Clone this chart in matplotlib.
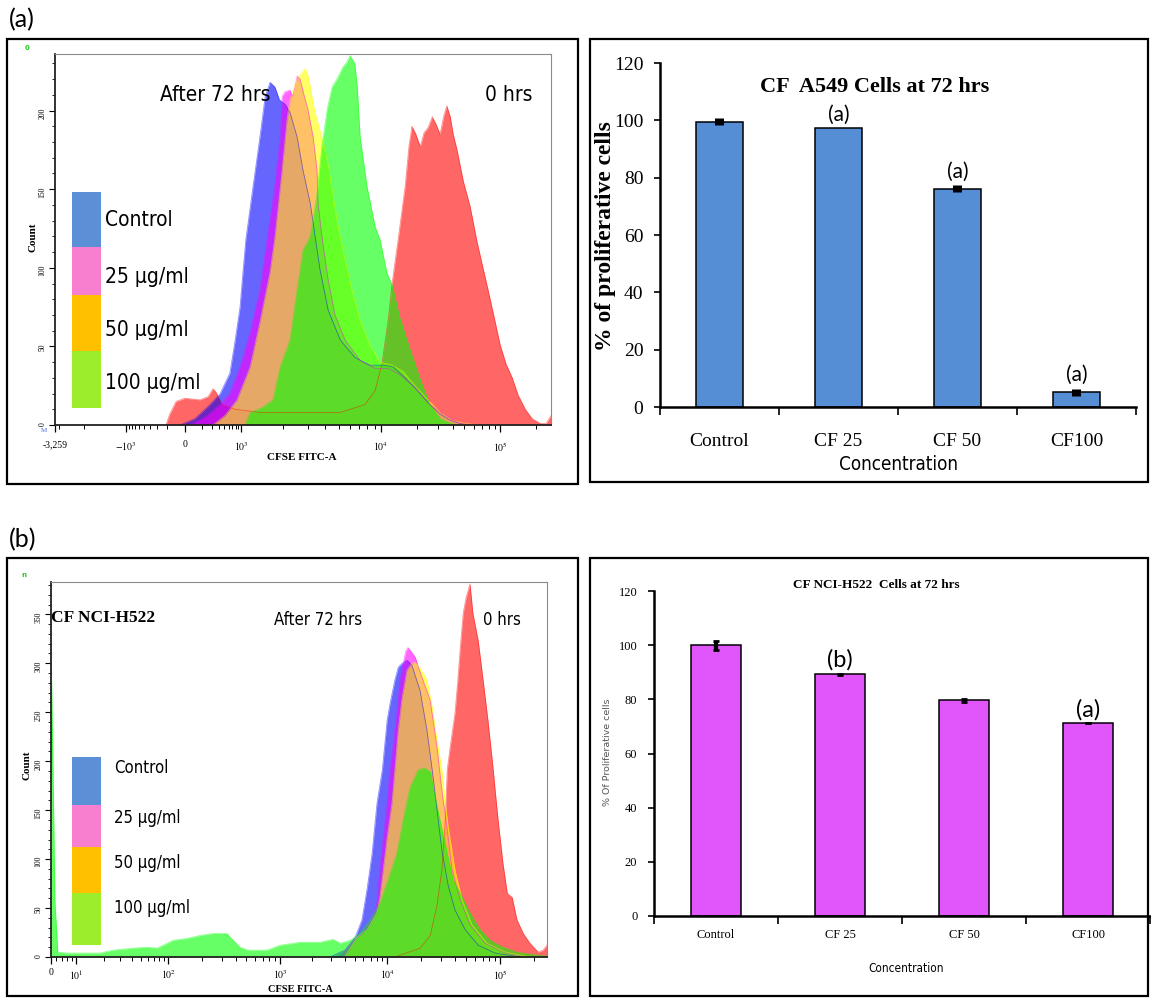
import numpy as np
import matplotlib
matplotlib.use('Agg')
import matplotlib.pyplot as plt
from matplotlib.patches import Rectangle

plt.rcParams['mathtext.fontset'] = 'stix'

W, H = 1151, 998
SERIF = ['Liberation Serif', 'DejaVu Serif']
NARROW = dict(family=['DejaVu Sans'], stretch='condensed')
CALIBRI = ['Lato', 'DejaVu Sans']

# ---- CFSE histograms, x = display channel (0..1024), y = cell count ----
# (a) CF A549
a_red_x = [229, 237, 250, 268, 299, 316, 326, 332, 345, 372, 423, 506, 589, 640, 661, 675, 688, 696, 708, 723,
           731, 737, 745, 754, 762, 770, 779, 787, 795, 803, 809, 816, 822, 830, 843, 857, 871, 882, 894, 907,
           919, 931, 944, 956, 971, 985, 1002, 1014, 1024]
a_red_y = [0, 7, 15, 17, 16, 18, 23, 21, 13, 10, 8, 8, 8, 13, 22, 39, 67, 90, 117, 152,
           178, 190, 185, 177, 186, 189, 196, 191, 185, 197, 203, 196, 185, 175, 155, 139, 117, 102, 86, 68,
           51, 39, 30, 19, 10, 4, 1, 1, 6]
a_ctrl_x = [258, 289, 320, 341, 361, 372, 382, 388, 394, 409, 423, 434, 444, 454, 463, 475, 485, 500, 512, 527,
            537, 547, 564, 589, 619, 650, 681, 698, 723, 748, 774, 795, 816, 836, 857]
a_ctrl_y = [0, 4, 13, 20, 33, 54, 75, 97, 118, 152, 183, 209, 218, 215, 207, 204, 199, 183, 162, 141,
            120, 99, 73, 54, 43, 38, 38, 37, 30, 22, 13, 7, 3, 1, 0]
a_25_x = [279, 310, 341, 361, 382, 403, 423, 438, 454, 465, 469, 475, 485, 491, 500, 506, 514, 522, 533, 541,
          543, 551, 564, 578, 599, 630, 661, 688, 712, 743, 774, 805, 836, 867]
a_25_y = [0, 5, 13, 20, 37, 59, 86, 118, 152, 183, 209, 212, 213, 209, 222, 220, 210, 201, 183, 162,
          141, 120, 92, 70, 54, 41, 36, 36, 32, 24, 13, 6, 1, 0]
a_50_x = [326, 351, 376, 403, 423, 444, 454, 469, 479, 485, 491, 500, 506, 516, 522, 527, 533, 541, 551, 562,
          572, 584, 599, 613, 630, 650, 671, 696, 719, 743, 770, 795, 820, 847, 878]
a_50_y = [0, 6, 16, 37, 65, 97, 119, 162, 194, 206, 213, 220, 223, 227, 223, 215, 204, 194, 183, 169,
          150, 127, 105, 86, 67, 51, 40, 38, 34, 25, 16, 8, 3, 1, 0]
a_100_x = [392, 403, 427, 450, 465, 485, 500, 512, 527, 541, 551, 562, 572, 582, 595, 603, 609, 615, 619, 624,
           630, 644, 661, 671, 685, 696, 712, 733, 754, 774, 795, 816, 836]
a_100_y = [0, 8, 11, 16, 37, 54, 86, 111, 120, 147, 177, 201, 215, 220, 228, 231, 235, 232, 230, 215,
           183, 152, 126, 118, 97, 89, 68, 48, 29, 13, 4, 1, 0]

# (b) CF NCI-H522
b_red_x = [710, 762, 783, 797, 807, 814, 818, 824, 834, 840, 845, 851, 857, 865, 871, 882, 892, 902, 913, 917,
           923, 933, 942, 952, 962, 975, 989, 1006, 1016, 1024]
b_red_y = [0, 9, 22, 53, 89, 140, 191, 214, 249, 283, 316, 351, 367, 381, 351, 323, 283, 242, 191, 170,
           140, 96, 65, 61, 38, 24, 14, 5, 7, 12]
b_ctrl_x = [576, 607, 628, 642, 653, 663, 673, 684, 694, 700, 710, 717, 725, 735, 745, 762, 776, 787, 797, 807,
            820, 834, 855, 882, 917, 968]
b_ctrl_y = [0, 7, 20, 38, 71, 106, 157, 191, 242, 259, 283, 296, 300, 303, 298, 272, 232, 191, 150, 109,
            73, 48, 28, 12, 4, 0]
b_25_x = [597, 632, 644, 663, 673, 679, 686, 694, 700, 706, 714, 721, 727, 733, 737, 745, 752, 762, 783, 797,
          807, 818, 828, 845, 865, 896, 938, 979]
b_25_y = [0, 20, 24, 38, 55, 89, 122, 157, 191, 214, 249, 283, 300, 313, 316, 311, 306, 291, 262, 214,
          170, 130, 89, 58, 33, 14, 4, 0]
b_50_x = [607, 632, 653, 673, 679, 686, 694, 704, 710, 717, 725, 735, 745, 752, 762, 776, 787, 797, 807, 814,
          820, 834, 849, 869, 900, 938, 989]
b_50_y = [0, 20, 28, 45, 61, 89, 122, 157, 191, 232, 265, 293, 300, 301, 295, 283, 255, 221, 191, 157,
          133, 89, 58, 33, 14, 5, 0]
b_100_x = [0, 4, 8, 14, 33, 101, 128, 169, 198, 219, 252, 281, 308, 335, 363, 376, 390, 405, 446, 473,
           514, 555, 582, 597, 617, 632, 644, 659, 679, 696, 714, 727, 741, 758, 770, 783, 789, 803, 818, 830,
           849, 865, 886, 907, 933, 962, 989, 1024]
b_100_y = [320, 201, 58, 5, 4, 4, 7, 9, 10, 9, 17, 19, 22, 24, 24, 17, 10, 7, 7, 12,
           15, 15, 18, 14, 17, 22, 28, 38, 55, 79, 106, 140, 173, 191, 193, 189, 173, 140, 106, 79,
           61, 45, 28, 17, 10, 5, 3, 1]

a_xtick_pos = [0, 147, 268, 384, 673, 919]
a_xtick_lab = ['-3,259', r'$-10^3$', '0', r'$10^3$', r'$10^4$', r'$10^5$']
b_xtick_pos = [0, 52, 242, 473, 694, 927]
b_xtick_lab = ['0', r'$10^1$', r'$10^2$', r'$10^3$', r'$10^4$', r'$10^5$']

legend_labels = ['Control', '25 µg/ml', '50 µg/ml', '100 µg/ml']
legend_colors = ['#5b8fd6', '#f87fd0', '#ffc000', '#9cee2c']
hist_colors = ['red', 'blue', 'magenta', 'yellow', 'lime']

# ---- proliferation bars ----
categories = ['Control', 'CF 25', 'CF 50', 'CF100']
a_vals = [99.5, 97.3, 76.2, 5.1]
a_err = [1.2, 0.0, 1.3, 1.3]
a_marks = ['', '(a)', '(a)', '(a)']
b_vals = [100.0, 89.2, 79.6, 71.2]
b_err = [1.7, 0.3, 0.6, 0.0]
b_marks = ['', '(b)', '', '(a)']


def frac(x0, y0, x1, y1):
    return [x0 / W, 1 - y1 / H, (x1 - x0) / W, (y1 - y0) / H]


def ftext(x, y, s, **kw):
    fig.text(x / W, 1 - y / H, s, **kw)


fig = plt.figure(figsize=(W / 100, H / 100), dpi=100)

# panel frames
for x0, y0, x1, y1 in [(7, 39, 578, 484), (590, 39, 1148, 482), (7, 558, 578, 996), (590, 558, 1148, 996)]:
    fig.patches.append(Rectangle((x0 / W, 1 - y1 / H), (x1 - x0) / W, (y1 - y0) / H, transform=fig.transFigure,
                                 fill=False, ec='black', lw=1.6))
ftext(9, 20, '(a)', family=CALIBRI, fontsize=18, va='center')
ftext(9, 540, '(b)', family=CALIBRI, fontsize=18, va='center')

lg = np.log10(np.arange(2, 10))


def hist_panel(rect, curves, ymax, ypos, xpos, xlab, minors, xpad):
    ax = fig.add_axes(rect)
    for (x, y), c in zip(curves, hist_colors):
        ax.fill_between(x, y, color=c, alpha=0.6, lw=0)
        ax.plot(x, y, color=c, lw=0.6, alpha=0.45)
    ax.set_xlim(0, 1024)
    ax.set_ylim(0, ymax)
    ax.set_xticks(xpos, xlab)
    ax.set_xticks([m for m in minors if 0 < m < 1024], minor=True)
    ax.set_yticks(ypos, [str(v) for v in ypos])
    ax.set_yticks(np.arange(0, ymax, 10), minor=True)
    for s in ['top', 'right']:
        ax.spines[s].set_color('#8a8a8a')
    for s in ['left', 'bottom']:
        ax.spines[s].set_color('#222222')
        ax.spines[s].set_linewidth(1.3)
    ax.tick_params(axis='x', which='major', length=5, width=0.9, labelsize=7, pad=xpad)
    ax.tick_params(axis='x', which='minor', length=3, width=0.7)
    ax.tick_params(axis='y', which='major', length=4, width=0.8, labelsize=5.5, labelrotation=90, pad=2)
    ax.tick_params(axis='y', which='minor', length=2, width=0.6)
    for t in ax.get_xticklabels() + ax.get_yticklabels():
        t.set_family(SERIF)
    return ax


# (a) histogram
p = a_xtick_pos
a_minor = np.concatenate([p[2] - (p[2] - p[1]) * lg, p[2] + (p[3] - p[2]) * lg, p[3] + (p[4] - p[3]) * lg,
                          p[4] + (p[5] - p[4]) * lg, p[5] + (p[5] - p[4]) * lg, p[1] - (p[4] - p[3]) * lg[:2]])
hist_panel(frac(55, 54, 551, 425),
           [(a_red_x, a_red_y), (a_ctrl_x, a_ctrl_y), (a_25_x, a_25_y), (a_50_x, a_50_y), (a_100_x, a_100_y)],
           236, [0, 50, 100, 150, 200], a_xtick_pos, a_xtick_lab, a_minor, 6)
ftext(33, 237, 'Count', family=SERIF, fontsize=8, weight='bold', rotation=90, va='center', ha='center')
ftext(302, 457, 'CFSE FITC-A', family=SERIF, fontsize=8, weight='bold', va='center', ha='center')
ftext(215, 95, 'After 72 hrs', fontsize=15, va='center', ha='center', **NARROW)
ftext(509, 95, '0 hrs', fontsize=15, va='center', ha='center', **NARROW)
ftext(25, 48, '0', color='#22cc22', fontsize=5, va='center', weight='bold')
ftext(41, 431, 'M', color='#4466dd', fontsize=5, va='center', family=SERIF)
for (y0, y1), c in zip([(192, 247), (247, 295), (295, 351), (351, 408)], legend_colors):
    fig.patches.append(Rectangle((72 / W, 1 - y1 / H), 29 / W, (y1 - y0) / H, transform=fig.transFigure,
                                 color=c, lw=0))
for ly, lab in zip([220, 277, 330, 383], legend_labels):
    ftext(105, ly, lab, fontsize=15, va='center', **NARROW)

# (b) histogram
p = b_xtick_pos
b_minor = np.concatenate([p[1] + (p[2] - p[1]) * lg, p[2] + (p[3] - p[2]) * lg, p[3] + (p[4] - p[3]) * lg,
                          p[4] + (p[5] - p[4]) * lg, p[5] + (p[5] - p[4]) * lg, p[1] - (p[2] - p[1]) * (1 - lg)])
hist_panel(frac(51, 582, 547, 957),
           [(b_red_x, b_red_y), (b_ctrl_x, b_ctrl_y), (b_25_x, b_25_y), (b_50_x, b_50_y), (b_100_x, b_100_y)],
           383, [0, 50, 100, 150, 200, 250, 300, 350], b_xtick_pos, b_xtick_lab, b_minor, 3)
ftext(27, 765, 'Count', family=SERIF, fontsize=8, weight='bold', rotation=90, va='center', ha='center')
ftext(300, 989, 'CFSE FITC-A', family=SERIF, fontsize=7.5, weight='bold', va='center', ha='center')
ftext(51, 618, 'CF NCI-H522', family=SERIF, fontsize=12.5, weight='bold', va='center')
ftext(318, 620, 'After 72 hrs', fontsize=12, va='center', ha='center', **NARROW)
ftext(502, 620, '0 hrs', fontsize=12, va='center', ha='center', **NARROW)
ftext(21, 575, 'n', color='#22cc22', fontsize=5, va='center', weight='bold')
for (y0, y1), c in zip([(757, 805), (805, 847), (847, 893), (893, 945)], legend_colors):
    fig.patches.append(Rectangle((72 / W, 1 - y1 / H), 29 / W, (y1 - y0) / H, transform=fig.transFigure,
                                 color=c, lw=0))
for ly, lab in zip([768, 818, 863, 908], legend_labels):
    ftext(114, ly, lab, fontsize=12, va='center', **NARROW)


def bar_panel(rect, vals, errs, marks, color, xmax, tsize, tpad, ew, cap, msize, moff):
    ax = fig.add_axes(rect)
    x = np.arange(len(categories))
    ax.bar(x, vals, width=0.4, color=color, edgecolor='black', linewidth=1.1, zorder=2)
    ax.errorbar(x, vals, yerr=errs, fmt='none', ecolor='black', elinewidth=ew, capsize=cap, capthick=2, zorder=3)
    for xi, v, e, m in zip(x, vals, errs, marks):
        if m:
            ax.text(xi, v + e + moff, m, ha='center', va='bottom', family=CALIBRI, fontsize=msize)
    ax.set_xlim(-0.5, xmax)
    ax.set_ylim(0, 120)
    ax.set_yticks(np.arange(0, 121, 20))
    ax.set_xticks(np.arange(-0.5, 3.6, 1.0), [''] * 5)
    ax.set_xticks(x, categories, minor=True)
    for s in ['top', 'right']:
        ax.spines[s].set_visible(False)
    for s in ['left', 'bottom']:
        ax.spines[s].set_linewidth(1.8)
    ax.tick_params(axis='y', length=4, width=1.2, labelsize=tsize, pad=8)
    ax.tick_params(axis='x', which='major', length=6, width=1.2)
    ax.tick_params(axis='x', which='minor', length=0, labelsize=tsize, pad=tpad)
    for t in ax.get_xticklabels(minor=True) + ax.get_yticklabels():
        t.set_family(SERIF)
    return ax


ax = bar_panel(frac(660, 63, 1136, 407), a_vals, a_err, a_marks, '#558ed5', 3.5, 14, 19, 6.5, 0, 15, 1.2)
ax.text(0.45, 0.93, 'CF  A549 Cells at 72 hrs', transform=ax.transAxes, ha='center', va='center',
        family=SERIF, fontsize=16, weight='bold')
ftext(605, 236, '% of proliferative cells', family=SERIF, fontsize=17, weight='bold', rotation=90,
      ha='center', va='center')
ftext(899, 464, 'Concentration', fontsize=13.5, ha='center', va='center', **NARROW)

ax = bar_panel(frac(654, 591, 1150, 916), b_vals, b_err, b_marks, '#e056fb', 3.44, 9, 9, 3, 2, 17, 1.0)
ax.text(0.448, 1.02, 'CF NCI-H522  Cells at 72 hrs', transform=ax.transAxes, ha='center', va='center',
        family=SERIF, fontsize=9.5, weight='bold')
ftext(608, 752, '% Of Proliferative cells', family=['DejaVu Sans'], fontsize=6.8, color='#555555',
      rotation=90, ha='center', va='center')
ftext(906, 968, 'Concentration', fontsize=8.5, ha='center', va='center', **NARROW)

fig.savefig('out.png', dpi=100)
